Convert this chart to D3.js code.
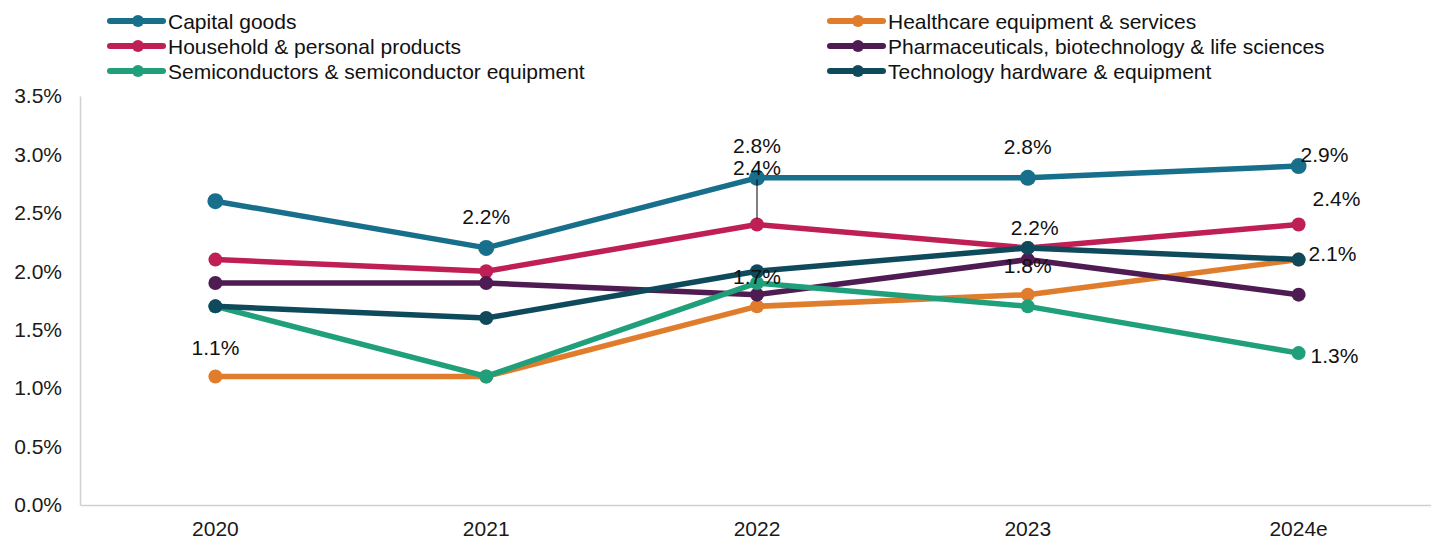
<!DOCTYPE html>
<html>
<head>
<meta charset="utf-8">
<script src="https://cdn.jsdelivr.net/npm/d3@7"></script>
<style>
  html, body { margin: 0; padding: 0; background: #fff; }
  svg { display: block; font-family: "Liberation Sans", Arial, sans-serif; }
</style>
</head>
<body>
<svg id="chart" width="1431" height="539"></svg>
<script>
// Categories and tick labels
const years = ["2020", "2021", "2022", "2023", "2024e"];
const yTicks = [0, 0.5, 1.0, 1.5, 2.0, 2.5, 3.0, 3.5];

// Series values (%)
const capitalGoods   = [2.6, 2.2, 2.8, 2.8, 2.9];
const healthcare     = [1.1, 1.1, 1.7, 1.8, 2.1];
const household      = [2.1, 2.0, 2.4, 2.2, 2.4];
const pharma         = [1.9, 1.9, 1.8, 2.1, 1.8];
const semiconductors = [1.7, 1.1, 1.9, 1.7, 1.3];
const techHardware   = [1.7, 1.6, 2.0, 2.2, 2.1];

const seriesNames = [
  "Capital goods",
  "Healthcare equipment & services",
  "Household & personal products",
  "Pharmaceuticals, biotechnology & life sciences",
  "Semiconductors & semiconductor equipment",
  "Technology hardware & equipment"
];

// Label placement per point: [dx, dy, anchor, leader line]
const series = [
  { name: seriesNames[0], values: capitalGoods,   color: "#176f8b", r: 8,
    labels: [null, [0, -31], [0, -32], [0, -31], [2, -12, "start"]] },
  { name: seriesNames[1], values: healthcare,     color: "#e07d2c", r: 7,
    labels: [[0, -29], null, [0, -30], [0, -29], [10, -6, "start"]] },
  { name: seriesNames[2], values: household,      color: "#bf1f55", r: 7,
    labels: [null, null, [0, -57, "middle", true], [7, -20], [14, -26, "start"]] },
  { name: seriesNames[3], values: pharma,         color: "#4f1b53", r: 7, labels: [] },
  { name: seriesNames[4], values: semiconductors, color: "#1fa07a", r: 7,
    labels: [null, null, null, null, [12, 2, "start"]] },
  { name: seriesNames[5], values: techHardware,   color: "#0e4a5c", r: 7, labels: [] }
];

const svg = d3.select("#chart");
const margin = { left: 80, right: 1434, top: 96, bottom: 505 };
const FONT = "Liberation Sans, Arial, sans-serif";

const x = d3.scaleBand().domain(years).range([margin.left, margin.right]);
const y = d3.scaleLinear().domain([0, 3.5]).range([margin.bottom, margin.top]);
const cx = d => x(d) + x.bandwidth() / 2;

// Axes
const yAxis = d3.axisLeft(y).tickValues(yTicks).tickSize(0).tickPadding(18)
  .tickFormat(d => d3.format(".1f")(d) + "%");
svg.append("g").attr("transform", `translate(${margin.left},0)`).call(yAxis)
  .call(g => g.select(".domain").attr("stroke", "#d0d0d0").attr("stroke-width", 1.5))
  .call(g => g.selectAll("text").attr("font-size", 21).attr("fill", "#1a1a1a")
    .attr("font-family", FONT));

const xAxis = d3.axisBottom(x).tickSize(0).tickPadding(16);
svg.append("g").attr("transform", `translate(0,${margin.bottom})`).call(xAxis)
  .call(g => g.select(".domain").attr("stroke", "#d0d0d0").attr("stroke-width", 1.5))
  .call(g => g.selectAll("text").attr("font-size", 21).attr("fill", "#1a1a1a")
    .attr("font-family", FONT));

// Lines and markers
const line = d3.line().x((d, i) => cx(years[i])).y(d => y(d));

series.forEach(s => {
  const g = svg.append("g");
  g.append("path").datum(s.values).attr("d", line)
    .attr("fill", "none").attr("stroke", s.color).attr("stroke-width", 5.5)
    .attr("stroke-linejoin", "round");
  g.selectAll("circle").data(s.values).join("circle")
    .attr("cx", (d, i) => cx(years[i])).attr("cy", d => y(d))
    .attr("r", s.r).attr("fill", s.color);
});

// Data labels
const labelLayer = svg.append("g");
series.forEach(s => {
  s.labels.forEach((lab, i) => {
    if (!lab) return;
    const v = s.values[i];
    const px = cx(years[i]), py = y(v);
    if (lab[3]) {
      labelLayer.append("line")
        .attr("x1", px).attr("x2", px)
        .attr("y1", py + lab[1] + 12).attr("y2", py - 6)
        .attr("stroke", "#000").attr("stroke-width", 1);
    }
    labelLayer.append("text")
      .attr("x", px + lab[0]).attr("y", py + lab[1])
      .attr("text-anchor", lab[2] || "middle")
      .attr("dominant-baseline", "central")
      .attr("font-size", 21).attr("fill", "#111")
      .text(d3.format(".1f")(v) + "%");
  });
});

// Legend
const legendCols = [108, 828];
const legendRows = [21, 46, 71];
series.forEach((s, i) => {
  const lx = legendCols[i % 2], ly = legendRows[Math.floor(i / 2)];
  const g = svg.append("g").attr("transform", `translate(${lx},${ly})`);
  g.append("line").attr("x1", 2).attr("x2", 55).attr("y1", 0).attr("y2", 0)
    .attr("stroke", s.color).attr("stroke-width", 6).attr("stroke-linecap", "round");
  g.append("circle").attr("cx", 30).attr("cy", 0).attr("r", 6).attr("fill", s.color);
  g.append("text").attr("x", 60).attr("y", 0).attr("dominant-baseline", "central")
    .attr("font-size", 21).attr("fill", "#111").text(s.name);
});
</script>
</body>
</html>
